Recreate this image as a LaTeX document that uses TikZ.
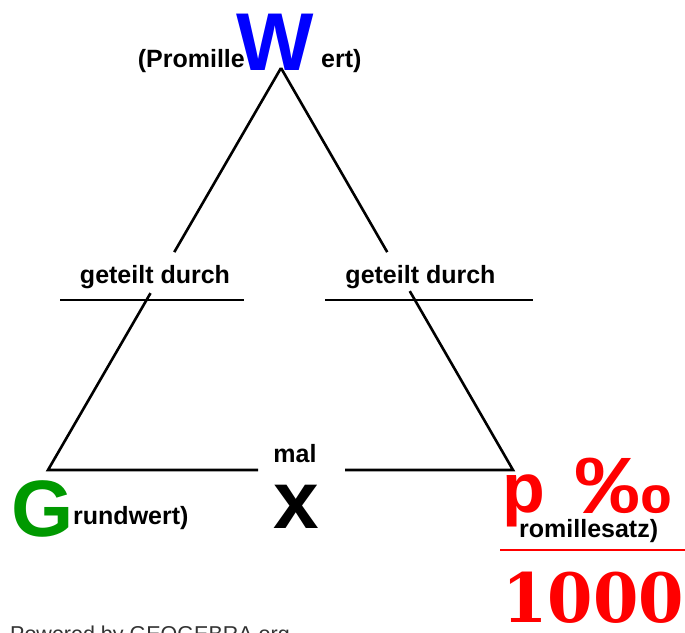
\documentclass[tikz,border=0pt]{standalone}
\usepackage{fontspec}
\setmainfont{Liberation Sans}
\newfontfamily\numfont{DejaVu Serif}
\usetikzlibrary{calc}
\definecolor{wblue}{HTML}{0000FF}
\definecolor{ggreen}{HTML}{009900}
\definecolor{pred}{HTML}{FF0000}

\begin{document}
\begin{tikzpicture}[x=1pt, y=-1pt,
  lbl/.style={inner sep=0pt, font=\fontsize{25}{30}\selectfont\bfseries},
  big/.style={inner sep=0pt, font=\fontsize{#1}{#1}\selectfont\bfseries},
  side/.style={line width=2.6pt, black}
]
  \clip (0,0) rectangle (685,632);
  \fill[white] (0,0) rectangle (685,632);

  \coordinate (top) at (281,68);
  \coordinate (gw) at (48,470);
  \coordinate (ps) at (513,470);

  % Wert oben
  \node[big=82, wblue, anchor=base west] (w) at (236,70) {W};
  \node[lbl, anchor=base east] (wl) at (245,67) {(Promille};
  \node[lbl, anchor=base west] (wr) at (321,67) {ert)};

  % Seiten des Dreiecks
  \node[lbl, anchor=base] (divl) at (155,283) {geteilt durch};
  \node[lbl, anchor=base] (divr) at (420.5,283) {geteilt durch};
  \node[lbl, anchor=base] (mal) at (295,462) {mal};
  \node[big=82, anchor=base] (x) at (296,528) {x};

  % Grundwert
  \node[big=80, ggreen, anchor=base west] (g) at (11,536) {G};
  \node[lbl, anchor=base west] (gr) at (73,524) {rundwert)};

  % Promillesatz
  \node[big=70, pred, anchor=base west] (p) at (502,512) {p};
  \node[big=80, pred, anchor=base west] (pm) at (574,513) {\scalebox{1.22}[1]{‰}};
  \node[lbl, anchor=base west] (pr) at (519,537) {romillesatz)};
  \draw[pred, line width=2.5pt] (500,550) -- (685,550);
  \node[inner sep=0pt, pred, font=\numfont\fontsize{68}{68}\selectfont\bfseries, anchor=base west] (k) at (502,622) {\scalebox{0.96}[1]{1000}};

  \node[inner sep=0pt, black!80, font=\fontsize{21.5}{22}\selectfont, anchor=base west] (gg) at (10,641) {Powered by GEOGEBRA.org};

  \draw[side] (top) -- ($(top)!.458!(gw)$);
  \draw[side] ($(top)!.56!(gw)$) -- (gw) -- ($(gw)!.452!(ps)$);
  \draw[side] (top) -- ($(top)!.458!(ps)$);
  \draw[side] ($(top)!.555!(ps)$) -- (ps) -- ($(gw)!.639!(ps)$);
  \draw[side] (60,300) -- (244,300);
  \draw[side] (325,300) -- (533,300);
\end{tikzpicture}
\end{document}
